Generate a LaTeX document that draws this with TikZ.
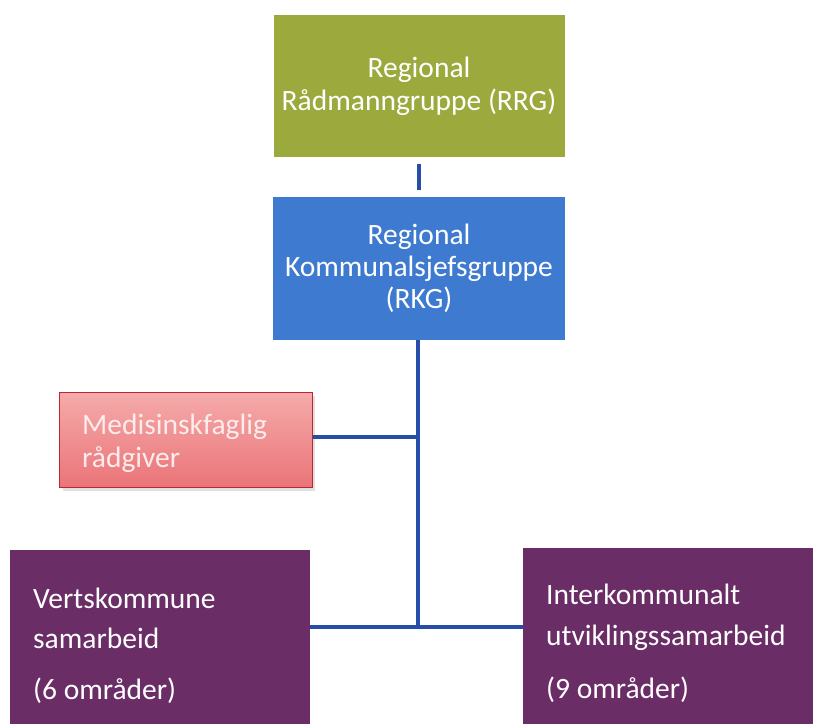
\documentclass[tikz,border=0pt]{standalone}
\usepackage{fontspec}
\setmainfont{Carlito}
\definecolor{rrgcol}{RGB}{156,169,60}
\definecolor{rkgcol}{RGB}{62,122,208}
\definecolor{purplecol}{RGB}{106,45,102}
\definecolor{linecol}{RGB}{38,78,168}
\definecolor{pinktop}{RGB}{245,170,170}
\definecolor{pinkbot}{RGB}{234,116,120}
\definecolor{pinkedge}{RGB}{185,40,50}
\definecolor{pinktext}{RGB}{252,236,236}
\begin{document}
\begin{tikzpicture}[x=1pt,y=-1pt,
  box/.style={draw=none,inner sep=0pt},
  ttext/.style={text=white,align=center,anchor=base,inner sep=0pt,
    font=\fontsize{29.5}{32.5}\selectfont},
  link/.style={draw=linecol,line width=3.5pt},
  btext/.style={text=white,align=left,anchor=base west,inner sep=0pt,
    font=\fontsize{29.5}{32}\selectfont}]
\useasboundingbox (0,0) rectangle (813,723);
\clip (0,0) rectangle (813,723);
\fill[white] (0,0) rectangle (813,723);
\node[box,fill=rrgcol,minimum width=291pt,minimum height=142pt] (rrg) at (419,86) {};
\node[ttext,font=\fontsize{29.5}{33}\selectfont] (rrgtext) at (419,110) {Regional\\Rådmanngruppe (RRG)};
\node[box,fill=rkgcol,minimum width=292pt,minimum height=143pt] (rkg) at (419,268.5) {};
\node[ttext,font=\fontsize{29.5}{32}\selectfont] (rkgtext) at (419,308) {Regional\\Kommunalsjefsgruppe\\(RKG)};
\fill[black!12] (63,396) rectangle (315,491);
\node[draw=pinkedge,line width=1.2pt,top color=pinktop,bottom color=pinkbot,
  inner sep=0pt,minimum width=253pt,minimum height=95pt] (med) at (186,440) {};
\node[btext,text=pinktext,font=\fontsize{29.5}{33}\selectfont] (medtext) at (82,467) {Medisinskfaglig\\rådgiver};
\node[box,fill=purplecol,minimum width=300pt,minimum height=200pt,anchor=north west] (vk) at (10,550) {};
\node[box,fill=purplecol,minimum width=300pt,minimum height=200pt,anchor=north west] (ik) at (523,548) {};
\node[btext] (vktext) at (33,699) {Vertskommune\\[8pt]samarbeid\\[19pt](6 områder)};
\node[btext] (iktext) at (546,698) {Interkommunalt\\[9pt]utviklingssamarbeid\\[21pt](9 områder)};
\coordinate (jmed) at (418,437);
\coordinate (jbot) at (418,627);
\draw[link] ([yshift=-7pt]rrg.south) -- ([yshift=7pt]rkg.north);
\draw[link] (rkg.south -| jbot) -- (jbot);
\draw[link] (med.east |- jmed) -- (jmed);
\draw[link] (vk.east |- jbot) -- (ik.west |- jbot);
\end{tikzpicture}
\end{document}
